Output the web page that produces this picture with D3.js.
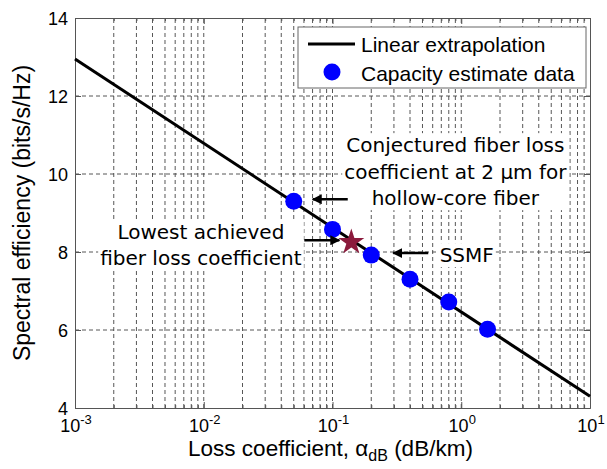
<!DOCTYPE html>
<html lang="en">
<head>
<meta charset="UTF-8">
<title>Spectral efficiency vs loss coefficient</title>
<style>
  body { margin: 0; background: #fff; }
  svg text { font-family: "Liberation Sans", Arial, sans-serif; fill: #000; }
  svg text.note { font-family: "DejaVu Sans", Verdana, sans-serif; font-size: 20px; }
</style>
</head>
<body>
<script src="https://d3js.org/d3.v7.min.js"></script>
<script>
var width = 607;
var height = 469;
var padding = {left: 75, right: 17, top: 18, bottom: 61};

// data
var lossValues = [0.05, 0.1, 0.2, 0.4, 0.8, 1.6];
var seValues = [9.3, 8.58, 7.92, 7.3, 6.72, 6.02];
var fitLoss = [0.001, 10];
var fitSE = [12.95, 4.3];
var starLoss = [0.14];
var starSE = [8.25];
var yTicks = [4, 6, 8, 10, 12, 14];
var xDecades = [-3, -2, -1, 0, 1];
var legendLabels = ["Linear extrapolation", "Capacity estimate data"];

var svg = d3.select("body").append("svg").attr("width", width).attr("height", height);

var x = d3.scaleLog().domain([1e-3, 10]).range([padding.left, width - padding.right]);
var y = d3.scaleLinear().domain([4, 14]).range([height - padding.bottom, padding.top]);

var x0 = padding.left, x1 = width - padding.right;
var y0 = height - padding.bottom, y1 = padding.top;

// minor + major x values
var minorX = [];
xDecades.slice(0, -1).forEach(function(p) {
  for (var k = 2; k <= 9; k++) minorX.push(k * Math.pow(10, p));
});
var majorX = xDecades.map(function(p) { return Math.pow(10, p); });

// grid
var grid = svg.append("g").attr("stroke", "#444").attr("stroke-width", 0.9).attr("stroke-dasharray", "4,3");
grid.selectAll(".vx").data(minorX.concat(majorX.slice(1, -1))).enter().append("line")
  .attr("x1", function(d) { return x(d); }).attr("x2", function(d) { return x(d); })
  .attr("y1", y0).attr("y2", y1);
grid.selectAll(".hy").data(yTicks.slice(1, -1)).enter().append("line")
  .attr("x1", x0).attr("x2", x1)
  .attr("y1", function(d) { return y(d); }).attr("y2", function(d) { return y(d); });

// axes with inside ticks on all sides
var xAxisB = d3.axisBottom(x).tickValues(majorX).tickSizeInner(-6).tickSizeOuter(0).tickFormat("");
var xAxisT = d3.axisTop(x).tickValues(majorX).tickSizeInner(-6).tickSizeOuter(0).tickFormat("");
var xMinB = d3.axisBottom(x).tickValues(minorX).tickSizeInner(-3).tickSizeOuter(0).tickFormat("");
var xMinT = d3.axisTop(x).tickValues(minorX).tickSizeInner(-3).tickSizeOuter(0).tickFormat("");
var yAxisL = d3.axisLeft(y).tickValues(yTicks).tickSizeInner(-6).tickSizeOuter(0).tickFormat("");
var yAxisR = d3.axisRight(y).tickValues(yTicks).tickSizeInner(-6).tickSizeOuter(0).tickFormat("");

[[xAxisB, "translate(0," + y0 + ")"], [xMinB, "translate(0," + y0 + ")"],
 [xAxisT, "translate(0," + y1 + ")"], [xMinT, "translate(0," + y1 + ")"],
 [yAxisL, "translate(" + x0 + ",0)"], [yAxisR, "translate(" + x1 + ",0)"]].forEach(function(a) {
  var g = svg.append("g").attr("transform", a[1]).call(a[0]);
  g.selectAll("path, line").attr("stroke", "#555");
});

// tick labels
svg.selectAll(".ylab").data(yTicks).enter().append("text")
  .attr("x", x0 - 7).attr("y", function(d) { return y(d) + 6.5; })
  .attr("text-anchor", "end").attr("font-size", 18)
  .text(function(d) { return d; });

var xl = svg.selectAll(".xlab").data(xDecades).enter().append("text")
  .attr("x", function(d) { return x(Math.pow(10, d)) + 1; }).attr("y", y0 + 24)
  .attr("text-anchor", "middle").attr("font-size", 18);
xl.append("tspan").text("10");
xl.append("tspan").attr("dy", -8).attr("font-size", 13).text(function(d) { return d; });

// axis titles
var xt = svg.append("text").attr("x", (x0 + x1) / 2 - 2).attr("y", y0 + 48)
  .attr("text-anchor", "middle").attr("font-size", 22.5);
xt.append("tspan").text("Loss coefficient, ");
xt.append("tspan").text("\u03b1");
xt.append("tspan").attr("dy", 5).attr("font-size", 16).text("dB");
xt.append("tspan").attr("dy", -5).text(" (dB/km)");

svg.append("text")
  .attr("transform", "translate(30," + 213 + ") rotate(-90)")
  .attr("text-anchor", "middle").attr("font-size", 23)
  .text("Spectral efficiency (bits/s/Hz)");

// fit line
var line = d3.line().x(function(d) { return x(d[0]); }).y(function(d) { return y(d[1]); });
svg.append("path").datum(d3.zip(fitLoss, fitSE))
  .attr("d", line).attr("fill", "none").attr("stroke", "#000").attr("stroke-width", 3);

// data points
svg.selectAll(".pt").data(d3.zip(lossValues, seValues)).enter().append("circle")
  .attr("cx", function(d) { return x(d[0]); }).attr("cy", function(d) { return y(d[1]); })
  .attr("r", 8.5).attr("fill", "#0000ff");

// star
var star = d3.symbol().type(d3.symbolStar).size(210);
svg.selectAll(".star").data(d3.zip(starLoss, starSE)).enter().append("path")
  .attr("d", star)
  .attr("transform", function(d) { return "translate(" + x(d[0]) + "," + y(d[1]) + ")"; })
  .attr("fill", "#8b1a3c");

// annotations with white backgrounds
function note(lines, cx, cy, anchor, lh) {
  var g = svg.append("g");
  var bg = g.append("rect").attr("fill", "#fff");
  var t = g.append("text").attr("class", "note").attr("text-anchor", anchor || "middle");
  lines.forEach(function(s, i) {
    t.append("tspan").attr("x", cx).attr("y", cy + i * lh).text(s);
  });
  var b = t.node().getBBox();
  bg.attr("x", b.x - 2).attr("y", b.y).attr("width", b.width + 4).attr("height", b.height);
}
note(["Conjectured fiber loss", "coefficient at 2 \u03bcm for", "hollow-core fiber"],
  x(0.9), y(10.74) + 7, "middle", 26.5);
note(["Lowest achieved", "fiber loss coefficient"], x(0.0095), y(8.51) + 7, "middle", 26);
note(["SSMF"], x(0.68), y(7.92) + 7, "start", 20);

// arrows
svg.append("defs").append("marker").attr("id", "ah")
  .attr("viewBox", "0 0 10 10").attr("refX", 9).attr("refY", 5)
  .attr("markerWidth", 4).attr("markerHeight", 4).attr("orient", "auto")
  .append("path").attr("d", "M0,0L10,5L0,10z").attr("fill", "#000");

var arrows = [
  [lossValues[0], seValues[0], 19, 54],
  [lossValues[2], seValues[2], 22, 57],
  [starLoss[0], starSE[0], -12, -47]
];
svg.selectAll(".arr").data(arrows).enter().append("line")
  .attr("x1", function(d) { return x(d[0]) + d[3]; })
  .attr("x2", function(d) { return x(d[0]) + d[2]; })
  .attr("y1", function(d) { return y(d[1]) - 2; })
  .attr("y2", function(d) { return y(d[1]) - 2; })
  .attr("stroke", "#000").attr("stroke-width", 2.5).attr("marker-end", "url(#ah)");

// legend
var lg = svg.append("g");
lg.append("rect").attr("x", 298).attr("y", 27).attr("width", 288).attr("height", 61)
  .attr("fill", "#fff").attr("stroke", "#666").attr("stroke-width", 1);
lg.append("line").attr("x1", 308).attr("x2", 355).attr("y1", 44).attr("y2", 44)
  .attr("stroke", "#000").attr("stroke-width", 3);
lg.append("circle").attr("cx", 332).attr("cy", 72).attr("r", 8.5).attr("fill", "#0000ff");
lg.selectAll(".lt").data(legendLabels).enter().append("text")
  .attr("x", 361).attr("y", function(d, i) { return 52 + i * 28.5; })
  .attr("font-size", 21).text(function(d) { return d; });
</script>
</body>
</html>
